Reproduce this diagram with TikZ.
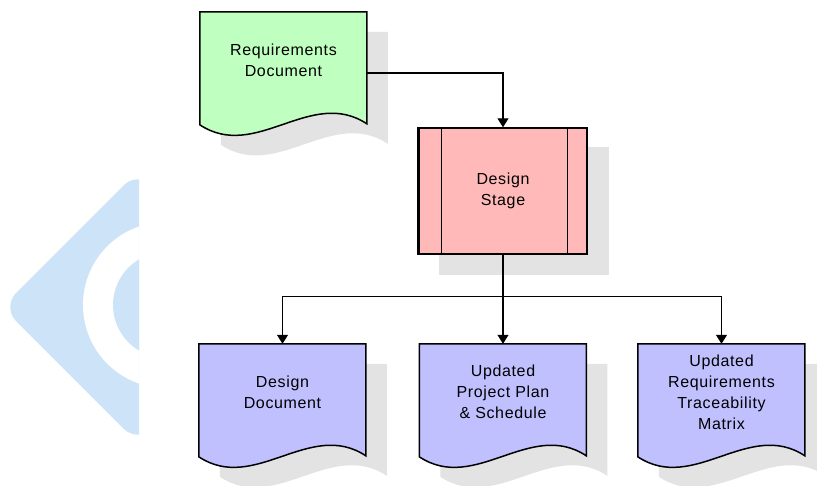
\documentclass[tikz,border=0pt]{standalone}
\usepackage{fontspec}
\usetikzlibrary{arrows.meta,backgrounds}
\newfontfamily\chartfont[LetterSpace=4.0]{Liberation Sans}
\definecolor{docgreen}{RGB}{191,255,191}
\definecolor{stagepink}{RGB}{255,185,185}
\definecolor{doclilac}{RGB}{192,192,255}
\definecolor{shadowgray}{RGB}{227,227,227}
\definecolor{markblue}{RGB}{205,228,248}
\tikzset{
  docnode/.style={inner sep=0pt, font=\chartfont\fontsize{16}{21}\selectfont},
  outline/.style={draw=black, line width=1.5pt},
  flow/.style={-{Triangle[length=9pt,width=11pt]}, line width=1.2pt},
}
\newcommand{\doctext}[1]{\parbox[c][113pt][c]{167pt}{\centering #1\par\vspace{17pt}}}
\newcommand{\docpath}{(0,0) -- (167,0) -- (167,112) .. controls (111,75) and (56,150) .. (0,113) -- cycle}
\begin{document}
\begin{tikzpicture}[x=1pt, y=-1pt]
  \useasboundingbox (0,0) rectangle (817,485);
  % documents and the stage
  \node[docnode] (reqdoc) at (283.5,68.5) {\doctext{Requirements\\Document}};
  \node[docnode, outline, fill=stagepink, align=center, minimum width=168pt, minimum height=126pt] (stage) at (503,191) {Design\\Stage};
  \node[docnode] (dd) at (282.5,400.5) {\doctext{Design\\Document}};
  \node[docnode] (pp) at (503,400.5) {\doctext{Updated\\Project Plan\\\& Schedule}};
  \node[docnode] (rtm) at (721.5,400.5) {\doctext{Updated\\Requirements\\Traceability\\Matrix}};
  \draw[line width=1pt] ([xshift=23pt]stage.north west) -- ([xshift=23pt]stage.south west);
  \draw[line width=1pt] ([xshift=-20pt]stage.north east) -- ([xshift=-20pt]stage.south east);
  \draw[line width=2.5pt] (stage.north west) -- (stage.south west);
  % connectors
  \coordinate (split) at ([yshift=-42pt]stage.south);
  \draw[flow] ([yshift=-4.5pt]reqdoc.east) -| (stage.north);
  \draw[flow] (stage.south) -- (pp.north);
  \draw[flow] (split) -| (dd.north);
  \draw[flow] (split) -| (rtm.north);
  \begin{scope}[on background layer]
    % watermark
    \begin{scope}
      \clip (0,0) rectangle (139,485);
      \fill[markblue, rounded corners=20pt] (2,307) -- (138,171) -- (274,307) -- (138,443) -- cycle;
      \fill[white] (166,305) circle (83);
      \fill[markblue] (166,305) circle (53);
    \end{scope}
    % shadows and document shapes
    \foreach \d/\c in {reqdoc/docgreen, dd/doclilac, pp/doclilac, rtm/doclilac} {
      \fill[shadowgray, shift={(\d.north west)}, shift={(21,20)}] \docpath;
      \filldraw[outline, fill=\c, shift={(\d.north west)}] \docpath;
    }
    \fill[shadowgray] ([shift={(21,20)}]stage.north west) rectangle ([shift={(21,20)}]stage.south east);
  \end{scope}
\end{tikzpicture}
\end{document}
